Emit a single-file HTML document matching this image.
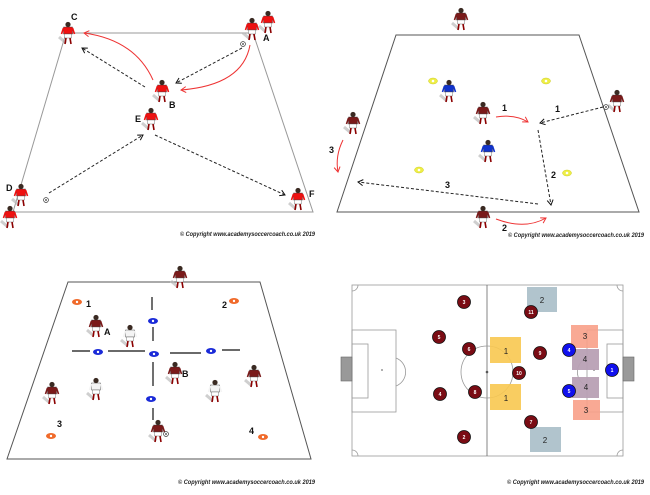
<!DOCTYPE html>
<html><head><style>
body{margin:0;background:#fff;}
svg{display:block;}
.cp{font:italic bold 6.5px "Liberation Sans",sans-serif;fill:#222;}
.lb{font:bold 9px "Liberation Sans",sans-serif;fill:#111;}
.nm{font:bold 5px "Liberation Sans",sans-serif;fill:#fff;text-anchor:middle;}
.zn{font:8px "Liberation Sans",sans-serif;fill:#222;text-anchor:middle;}
</style></head><body>
<svg width="650" height="495" viewBox="0 0 650 495" xmlns="http://www.w3.org/2000/svg">
<defs>
<g id="pl">
 <path d="M-2 10 L-9 4" stroke="#bbb" stroke-width="3" opacity="0.7"/>
 <rect x="-4.5" y="-6" width="9" height="7" fill="currentColor" stroke="#333" stroke-width="0.4"/>
 <line x1="-4.5" y1="-5" x2="-6.5" y2="1" stroke="currentColor" stroke-width="1.6"/>
 <line x1="4.5" y1="-5" x2="6.5" y2="1" stroke="currentColor" stroke-width="1.6"/>
 <circle cx="0" cy="-8.5" r="2.6" fill="#3a2a22"/>
 <rect x="-3.5" y="1" width="7" height="4" fill="#fff" stroke="#555" stroke-width="0.4"/>
 <line x1="-2" y1="5" x2="-3" y2="11" stroke="#8b0000" stroke-width="1.6"/>
 <line x1="2" y1="5" x2="3" y2="11" stroke="#8b0000" stroke-width="1.6"/>
</g>
<g id="ball"><circle r="2.4" fill="#fff" stroke="#333" stroke-width="0.7"/><circle r="0.9" fill="#333"/></g>
<marker id="ab" markerWidth="8" markerHeight="8" refX="6" refY="4" orient="auto" markerUnits="userSpaceOnUse"><path d="M1 1 L6 4 L1 7" fill="none" stroke="#111" stroke-width="1"/></marker>
<marker id="ar" markerWidth="8" markerHeight="8" refX="6" refY="4" orient="auto" markerUnits="userSpaceOnUse"><path d="M1 1 L6 4 L1 7" fill="none" stroke="#e33" stroke-width="1"/></marker>
</defs>

<!-- Panel 1 -->
<polygon points="66,33 253,33 313,212 13,212" fill="#fff" stroke="#999" stroke-width="1"/>
<g stroke="#222" stroke-width="1" stroke-dasharray="3,2" fill="none" marker-end="url(#ab)">
<line x1="242" y1="48" x2="176" y2="83"/>
<line x1="145" y1="87" x2="82" y2="48"/>
<line x1="49" y1="193" x2="143" y2="135"/>
<line x1="155" y1="135" x2="285" y2="195"/>
</g>
<g stroke="#e33" stroke-width="1" fill="none" marker-end="url(#ar)">
<path d="M153 80 Q135 40 84 33"/>
<path d="M250 45 Q243 85 181 90"/>
</g>
<use href="#pl" x="68" y="33" color="#e11"/>
<use href="#pl" x="252" y="29" color="#e11"/>
<use href="#pl" x="268" y="22" color="#e11"/>
<use href="#pl" x="162" y="91" color="#e11"/>
<use href="#pl" x="151" y="119" color="#e11"/>
<use href="#pl" x="21" y="195" color="#e11"/>
<use href="#pl" x="10" y="217" color="#e11"/>
<use href="#pl" x="298" y="199" color="#e11"/>
<use href="#ball" x="243" y="44"/>
<use href="#ball" x="46" y="200"/>
<text class="lb" x="71" y="20">C</text>
<text class="lb" x="263" y="41">A</text>
<text class="lb" x="169" y="108">B</text>
<text class="lb" x="135" y="122">E</text>
<text class="lb" x="6" y="191">D</text>
<text class="lb" x="309" y="197">F</text>
<text class="cp" x="180" y="236" textLength="135" lengthAdjust="spacingAndGlyphs">© Copyright www.academysoccercoach.co.uk 2019</text>

<!-- Panel 2 -->
<polygon points="396,35 579,35 639,212 337,212" fill="#fff" stroke="#555" stroke-width="1"/>
<g fill="#ee4" stroke="#cc2" stroke-width="0.5">
<ellipse cx="433" cy="81" rx="4.5" ry="3"/><ellipse cx="546" cy="81" rx="4.5" ry="3"/>
<ellipse cx="419" cy="170" rx="4.5" ry="3"/><ellipse cx="567" cy="173" rx="4.5" ry="3"/>
</g>
<g fill="#fff"><circle cx="433" cy="81" r="1.3"/><circle cx="546" cy="81" r="1.3"/><circle cx="419" cy="170" r="1.3"/><circle cx="567" cy="173" r="1.3"/></g>
<g stroke="#222" stroke-width="1" stroke-dasharray="3,2" fill="none" marker-end="url(#ab)">
<line x1="603" y1="107" x2="540" y2="123"/>
<line x1="538" y1="130" x2="551" y2="205"/>
<line x1="538" y1="204" x2="358" y2="182"/>
</g>
<g stroke="#e33" stroke-width="1" fill="none" marker-end="url(#ar)">
<path d="M496 117 Q515 114 528 122"/>
<path d="M496 219 Q525 230 546 218"/>
<path d="M343 140 Q335 156 338 172"/>
</g>
<use href="#pl" x="461" y="19" color="#7a1a1a"/>
<use href="#pl" x="617" y="101" color="#7a1a1a"/>
<use href="#pl" x="353" y="123" color="#7a1a1a"/>
<use href="#pl" x="483" y="113" color="#7a1a1a"/>
<use href="#pl" x="483" y="217" color="#7a1a1a"/>
<use href="#pl" x="449" y="91" color="#1133cc"/>
<use href="#pl" x="488" y="151" color="#1133cc"/>
<use href="#ball" x="606" y="107"/>
<text class="lb" x="502" y="111">1</text>
<text class="lb" x="555" y="112">1</text>
<text class="lb" x="551" y="178">2</text>
<text class="lb" x="445" y="188">3</text>
<text class="lb" x="329" y="153">3</text>
<text class="lb" x="502" y="231">2</text>
<text class="cp" x="508" y="237" textLength="136" lengthAdjust="spacingAndGlyphs">© Copyright www.academysoccercoach.co.uk 2019</text>

<!-- Panel 3 -->
<polygon points="68,282 260,282 311,459 7,459" fill="#fff" stroke="#555" stroke-width="1"/>
<g stroke="#111" stroke-width="1.2">
<line x1="152" y1="297" x2="152" y2="310"/><line x1="153" y1="327" x2="153" y2="341"/>
<line x1="153" y1="362" x2="153" y2="386"/><line x1="153" y1="408" x2="153" y2="420"/>
<line x1="72" y1="351" x2="90" y2="351"/><line x1="108" y1="351" x2="145" y2="351"/>
<line x1="170" y1="353" x2="201" y2="353"/><line x1="222" y1="350" x2="240" y2="350"/>
</g>
<g fill="#1a2ad8"><ellipse cx="153" cy="321" rx="5" ry="3"/><ellipse cx="98" cy="352" rx="5" ry="3"/><ellipse cx="154" cy="354" rx="5" ry="3"/><ellipse cx="211" cy="351" rx="5" ry="3"/><ellipse cx="151" cy="399" rx="5" ry="3"/></g>
<g fill="#f06a2a"><ellipse cx="77" cy="302" rx="5" ry="3"/><ellipse cx="234" cy="301" rx="5" ry="3"/><ellipse cx="51" cy="436" rx="5" ry="3"/><ellipse cx="263" cy="437" rx="5" ry="3"/></g>
<g fill="#fff"><circle cx="153" cy="321" r="1.2"/><circle cx="98" cy="352" r="1.2"/><circle cx="154" cy="354" r="1.2"/><circle cx="211" cy="351" r="1.2"/><circle cx="151" cy="399" r="1.2"/><circle cx="77" cy="302" r="1.2"/><circle cx="234" cy="301" r="1.2"/><circle cx="51" cy="436" r="1.2"/><circle cx="263" cy="437" r="1.2"/></g>
<use href="#pl" x="180" y="277" color="#7a1a1a"/>
<use href="#pl" x="96" y="326" color="#7a1a1a"/>
<use href="#pl" x="175" y="373" color="#7a1a1a"/>
<use href="#pl" x="254" y="376" color="#7a1a1a"/>
<use href="#pl" x="52" y="393" color="#7a1a1a"/>
<use href="#pl" x="158" y="431" color="#7a1a1a"/>
<use href="#pl" x="130" y="336" color="#f4f4f4"/>
<use href="#pl" x="96" y="389" color="#f4f4f4"/>
<use href="#pl" x="215" y="391" color="#f4f4f4"/>
<use href="#ball" x="166" y="434"/>
<text class="lb" x="86" y="307">1</text>
<text class="lb" x="222" y="308">2</text>
<text class="lb" x="57" y="427">3</text>
<text class="lb" x="249" y="434">4</text>
<text class="lb" x="104" y="335">A</text>
<text class="lb" x="182" y="377">B</text>
<text class="cp" x="178" y="484" textLength="137" lengthAdjust="spacingAndGlyphs">© Copyright www.academysoccercoach.co.uk 2019</text>

<!-- Panel 4 -->
<g fill="none" stroke="#999" stroke-width="0.8">
<rect x="352" y="285" width="271" height="171"/>
<line x1="487" y1="285" x2="487" y2="456" stroke="#666"/>
<circle cx="487" cy="372" r="26"/>
<rect x="352" y="330" width="44" height="82"/>
<rect x="352" y="344" width="16" height="54"/>
<path d="M396 358 A15 15 0 0 1 396 386"/>
<rect x="587" y="330" width="36" height="82"/>
<rect x="607" y="344" width="16" height="54"/>
<path d="M587 358 A15 15 0 0 0 587 386"/>
<path d="M352 291 A6 6 0 0 0 358 285"/><path d="M617 285 A6 6 0 0 0 623 291"/>
<path d="M352 450 A6 6 0 0 1 358 456"/><path d="M617 456 A6 6 0 0 1 623 450"/>
</g>
<rect x="341" y="357" width="11" height="24" fill="#999" stroke="#666" stroke-width="0.6"/>
<rect x="623" y="357" width="11" height="24" fill="#999" stroke="#666" stroke-width="0.6"/>
<circle cx="487" cy="372" r="1.3" fill="#555"/><circle cx="382" cy="370" r="0.9" fill="#777"/><circle cx="594" cy="370" r="0.9" fill="#777"/>
<rect x="490" y="337" width="31" height="26" fill="#f8c850" opacity="0.9"/>
<rect x="490" y="384" width="31" height="26" fill="#f8c850" opacity="0.9"/>
<rect x="527" y="287" width="30" height="25" fill="#a8bec8" opacity="0.9"/>
<rect x="530" y="427" width="31" height="25" fill="#a8bec8" opacity="0.9"/>
<rect x="571" y="325" width="27" height="23" fill="#f8a088" opacity="0.9"/>
<rect x="573" y="400" width="27" height="20" fill="#f8a088" opacity="0.9"/>
<rect x="572" y="349" width="27" height="21" fill="#b8a0b4" opacity="0.95"/>
<rect x="572" y="377" width="27" height="21" fill="#b8a0b4" opacity="0.95"/>
<g stroke="#111" stroke-width="0.8" fill="#7a0c14">
<circle cx="464" cy="302" r="6.5"/><circle cx="439" cy="337" r="6.5"/><circle cx="469" cy="349" r="6.5"/>
<circle cx="440" cy="394" r="6.5"/><circle cx="475" cy="392" r="6.5"/><circle cx="464" cy="437" r="6.5"/>
<circle cx="531" cy="312" r="6.5"/><circle cx="540" cy="353" r="6.5"/><circle cx="519" cy="373" r="6.5"/><circle cx="531" cy="422" r="6.5"/>
</g>
<g stroke="#111" stroke-width="0.8" fill="#1010ee">
<circle cx="569" cy="350" r="6.5"/><circle cx="569" cy="391" r="6.5"/><circle cx="612" cy="370" r="6.5"/>
</g>
<g class="nm">
<text x="464" y="304">3</text><text x="439" y="339">5</text><text x="469" y="351">6</text><text x="440" y="396">4</text>
<text x="475" y="394">8</text><text x="464" y="439">2</text><text x="531" y="314">11</text><text x="540" y="355">9</text>
<text x="519" y="375">10</text><text x="531" y="424">7</text><text x="569" y="352">4</text><text x="569" y="393">5</text><text x="612" y="372">1</text>
</g>
<g class="zn">
<text x="506" y="354">1</text><text x="506" y="401">1</text><text x="542" y="303">2</text><text x="545" y="443">2</text>
<text x="585" y="339">3</text><text x="586" y="413">3</text><text x="585" y="362">4</text><text x="586" y="390">4</text>
</g>
<text class="cp" x="507" y="484" textLength="137" lengthAdjust="spacingAndGlyphs">© Copyright www.academysoccercoach.co.uk 2019</text>
</svg>
</body></html>
